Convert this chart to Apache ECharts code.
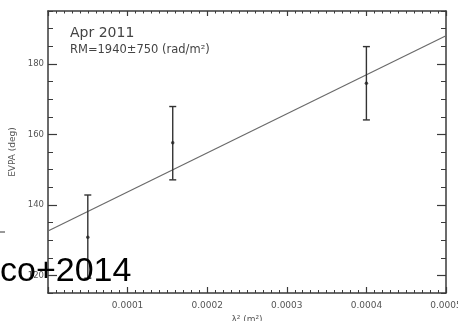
<!DOCTYPE html>
<html>
<head>
<meta charset="utf-8">
<script src="https://cdn.jsdelivr.net/npm/echarts@6/dist/echarts.min.js"></script>
<style>
  html, body { margin: 0; padding: 0; background: #fff; }
  #chart { width: 458px; height: 321px; }
</style>
</head>
<body>
<div id="chart"></div>
<script>
// lambda^2 (m^2) of the three bands, EVPA (deg) and error bar ends
const lambdaSq = [0.00005, 0.0001567, 0.0004]
const evpa = [130.8, 157.6, 174.5]
const evpaLow = [119.2, 147.1, 164.1]
const evpaHigh = [142.8, 167.9, 184.9]

// linear RM fit, read at both ends of the x range
const fitX = [0, 0.0005]
const fitY = [132.6, 188.0]

const yMajorTicks = [120, 140, 160, 180]

const axisColor = "#3a3a3a"
const labelColor = "#555"
const labelFont = "DejaVu Sans"

const chart = echarts.init(document.getElementById("chart"))

function xAxisOf(position, showLabel, majorLen, minorLen) {
  return {
    type: "value",
    position: position,
    min: 0,
    max: 0.0005,
    interval: 0.0001,
    axisLine: { show: true, onZero: false, lineStyle: { color: axisColor, width: 1.5 } },
    axisTick: { show: true, inside: true, length: majorLen, lineStyle: { color: axisColor, width: 1.2 } },
    minorTick: { show: true, splitNumber: 10, length: minorLen, lineStyle: { color: axisColor, width: 1 } },
    splitLine: { show: false },
    axisLabel: {
      show: showLabel,
      margin: 8,
      color: labelColor,
      fontFamily: labelFont,
      fontSize: 9,
      formatter: (v) => (v === 0 ? "" : v.toFixed(4))
    }
  }
}

function yAxisOf(position, opts) {
  return Object.assign({
    type: "value",
    position: position,
    min: 115,
    max: 195,
    interval: 5,
    axisLine: { show: false },
    splitLine: { show: false },
    axisLabel: { show: false }
  }, opts)
}

chart.setOption({
  animation: false,
  backgroundColor: "#fff",
  grid: { left: 48, right: 12, top: 11, bottom: 28, containLabel: false, outerBoundsMode: "none" },
  xAxis: [
    Object.assign(xAxisOf("bottom", true, 6, 3), {
      name: "λ² (m²)",
      nameLocation: "middle",
      nameGap: 17,
      nameTextStyle: { color: labelColor, fontFamily: labelFont, fontSize: 9 }
    }),
    xAxisOf("top", false, 5, 2.5)
  ],
  yAxis: [
    yAxisOf("left", {
      name: "EVPA (deg)",
      nameLocation: "middle",
      nameGap: 24,
      nameTextStyle: { color: labelColor, fontFamily: labelFont, fontSize: 9 },
      axisLine: { show: true, lineStyle: { color: axisColor, width: 1.5 } },
      axisTick: { show: true, inside: true, length: 5, lineStyle: { color: axisColor, width: 1 } },
      axisLabel: {
        show: true,
        customValues: yMajorTicks,
        margin: 4,
        color: labelColor,
        fontFamily: labelFont,
        fontSize: 8.5
      }
    }),
    yAxisOf("left", {
      axisTick: { show: true, inside: true, length: 9, customValues: yMajorTicks, lineStyle: { color: axisColor, width: 1.2 } }
    }),
    yAxisOf("right", {
      axisLine: { show: true, lineStyle: { color: axisColor, width: 1.5 } },
      axisTick: { show: true, inside: true, length: 5, lineStyle: { color: axisColor, width: 1 } }
    }),
    yAxisOf("right", {
      axisTick: { show: true, inside: true, length: 9, customValues: yMajorTicks, lineStyle: { color: axisColor, width: 1.2 } }
    })
  ],
  series: [
    {
      type: "line",
      data: fitX.map((x, i) => [x, fitY[i]]),
      symbol: "none",
      lineStyle: { color: "#6a6a6a", width: 1.2 },
      z: 2
    },
    {
      type: "custom",
      data: lambdaSq.map((x, i) => [x, evpaLow[i], evpaHigh[i]]),
      renderItem: (params, api) => {
        const lo = api.coord([api.value(0), api.value(1)])
        const hi = api.coord([api.value(0), api.value(2)])
        const cap = 3.5
        const style = { stroke: "#333", lineWidth: 1.4 }
        return {
          type: "group",
          children: [
            { type: "line", shape: { x1: lo[0], y1: lo[1], x2: hi[0], y2: hi[1] }, style: style },
            { type: "line", shape: { x1: lo[0] - cap, y1: lo[1], x2: lo[0] + cap, y2: lo[1] }, style: style },
            { type: "line", shape: { x1: hi[0] - cap, y1: hi[1], x2: hi[0] + cap, y2: hi[1] }, style: style }
          ]
        }
      },
      z: 3
    },
    {
      type: "scatter",
      data: lambdaSq.map((x, i) => [x, evpa[i]]),
      symbol: "circle",
      symbolSize: 3.5,
      itemStyle: { color: "#222" },
      z: 4
    }
  ],
  graphic: [
    {
      type: "text",
      left: 70,
      top: 26,
      style: { text: "Apr 2011", font: '14px "DejaVu Sans"', fill: "#444" }
    },
    {
      type: "text",
      left: 70,
      top: 44,
      style: { text: "RM=1940±750 (rad/m²)", font: '11.5px "DejaVu Sans"', fill: "#444" }
    },
    {
      type: "text",
      z: 100,
      style: {
        x: 0,
        y: 272,
        text: "co+2014",
        font: '34px "Liberation Sans"',
        fill: "#000",
        verticalAlign: "middle"
      }
    },
    {
      type: "line",
      z: 100,
      shape: { x1: 0, y1: 232, x2: 5, y2: 232 },
      style: { stroke: "#333", lineWidth: 1 }
    }
  ]
})
</script>
</body>
</html>
